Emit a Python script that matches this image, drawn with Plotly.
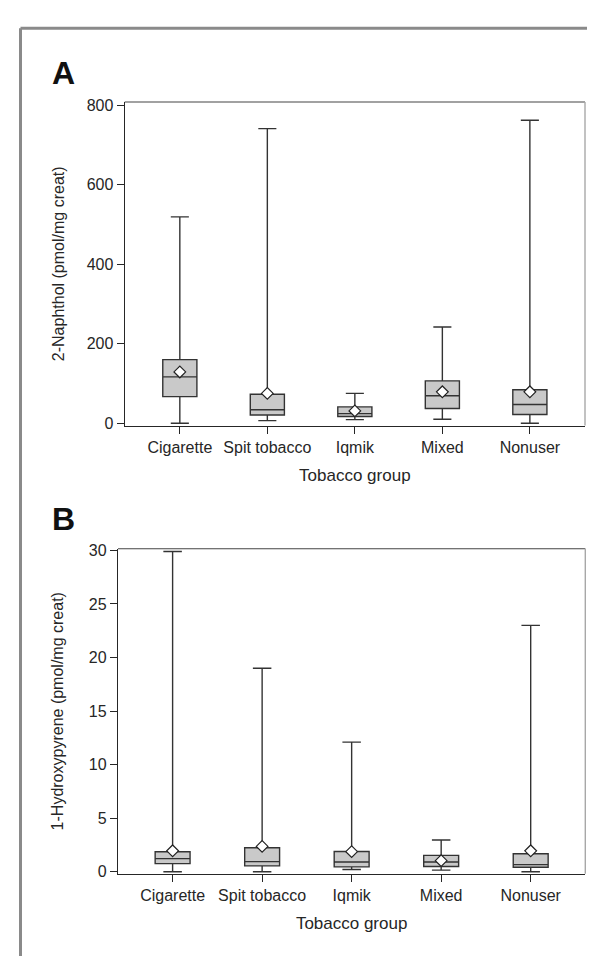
import plotly.graph_objects as go

categories = ["Cigarette", "Spit tobacco", "Iqmik", "Mixed", "Nonuser"]

# Panel A: 2-Naphthol (pmol/mg creat)
a_low = [0, 6.5, 9, 10, 0]
a_q1 = [67, 20.6, 17, 37, 22]
a_med = [116.5, 34, 24, 69, 47]
a_q3 = [160, 72.7, 41, 106.6, 84]
a_high = [519, 741, 75, 242, 762]
a_mean = [129, 75, 31, 79, 79]

# Panel B: 1-Hydroxypyrene (pmol/mg creat)
b_low = [0, 0, 0.21, 0.16, 0]
b_q1 = [0.76, 0.55, 0.46, 0.49, 0.43]
b_med = [1.23, 0.95, 0.92, 0.92, 0.67]
b_q3 = [1.87, 2.24, 1.9, 1.53, 1.69]
b_high = [29.9, 19.0, 12.1, 2.97, 23.0]
b_mean = [1.96, 2.37, 1.88, 1.04, 1.96]

a_ticks = [0, 200, 400, 600, 800]
b_ticks = [0, 5, 10, 15, 20, 25, 30]

W, H = 595, 956
FONT = "Liberation Sans, Arial, sans-serif"
DARK = "#262626"

fig = go.Figure()

def add_panel(q1, med, q3, lo, hi, mean, xa, ya):
    fig.add_trace(go.Box(
        x=categories, q1=q1, median=med, q3=q3, lowerfence=lo, upperfence=hi,
        boxpoints=False, fillcolor="#c9c9c9",
        line=dict(color="#333333", width=1.4),
        whiskerwidth=0.53, width=0.39,
        xaxis=xa, yaxis=ya, showlegend=False, hoverinfo="skip"))
    fig.add_trace(go.Scatter(
        x=categories, y=mean, mode="markers",
        marker=dict(symbol="diamond", size=9, color="white",
                    line=dict(color="#222222", width=1.2)),
        xaxis=xa, yaxis=ya, showlegend=False, hoverinfo="skip"))

add_panel(a_q1, a_med, a_q3, a_low, a_high, a_mean, "x", "y")
add_panel(b_q1, b_med, b_q3, b_low, b_high, b_mean, "x2", "y2")

def px_x(p):
    return p / W

def px_y(p):
    return 1 - p / H

axis_common = dict(showline=True, linecolor=DARK, linewidth=1.3,
                   ticks="outside", ticklen=7, tickcolor=DARK, tickwidth=1.2,
                   showgrid=False, zeroline=False,
                   tickfont=dict(family=FONT, size=16, color=DARK))

fig.update_layout(
    width=W, height=H, margin=dict(l=0, r=0, t=0, b=0),
    paper_bgcolor="white", plot_bgcolor="white",
    font=dict(family=FONT, color=DARK),
    xaxis=dict(domain=[px_x(116.7), px_x(577)], range=[-0.63, 4.63],
               anchor="y", title=dict(text="Tobacco group", standoff=14,
                                       font=dict(family=FONT, size=17, color=DARK)),
               **axis_common),
    yaxis=dict(domain=[px_y(416.7), px_y(88.3)], range=[-6, 808],
               anchor="x", tickvals=a_ticks,
               title=dict(text="2-Naphthol (pmol/mg creat)", standoff=18,
                          font=dict(family=FONT, size=16, color=DARK)),
               **axis_common),
    xaxis2=dict(domain=[px_x(110), px_x(577.3)], range=[-0.61, 4.61],
                anchor="y2", title=dict(text="Tobacco group", standoff=14,
                                        font=dict(family=FONT, size=17, color=DARK)),
                **axis_common),
    yaxis2=dict(domain=[px_y(871.5), px_y(541.7)], range=[-0.18, 30.15],
                anchor="x2", tickvals=b_ticks,
                title=dict(text="1-Hydroxypyrene (pmol/mg creat)", standoff=21,
                           font=dict(family=FONT, size=16, color=DARK)),
                **axis_common),
)

shapes = []
# outer gray frame (top and left)
shapes.append(dict(type="line", xref="paper", yref="paper",
                   x0=px_x(12.5), x1=1.01, y0=px_y(13.5), y1=px_y(13.5),
                   line=dict(color="#8a8a8a", width=3)))
shapes.append(dict(type="line", xref="paper", yref="paper",
                   x0=px_x(12.5), x1=px_x(12.5), y0=-0.01, y1=px_y(13.5),
                   line=dict(color="#8a8a8a", width=3)))
# top and right plot frame lines
for xa, ya in (("x", "y"), ("x2", "y2")):
    shapes.append(dict(type="line", xref=f"{xa} domain", yref=f"{ya} domain",
                       x0=0, x1=1, y0=1, y1=1, line=dict(color="#444444", width=1.2)))
    shapes.append(dict(type="line", xref=f"{xa} domain", yref=f"{ya} domain",
                       x0=1, x1=1, y0=0, y1=1, line=dict(color="#a8a8a8", width=1.4)))
fig.update_layout(shapes=shapes)

fig.add_annotation(text="<b>A</b>", xref="paper", yref="paper",
                   x=px_x(42), y=px_y(59), xanchor="left", yanchor="middle",
                   showarrow=False, font=dict(family=FONT, size=32, color="#111111"))
fig.add_annotation(text="<b>B</b>", xref="paper", yref="paper",
                   x=px_x(42), y=px_y(511), xanchor="left", yanchor="middle",
                   showarrow=False, font=dict(family=FONT, size=32, color="#111111"))

fig.write_html("out.html")
